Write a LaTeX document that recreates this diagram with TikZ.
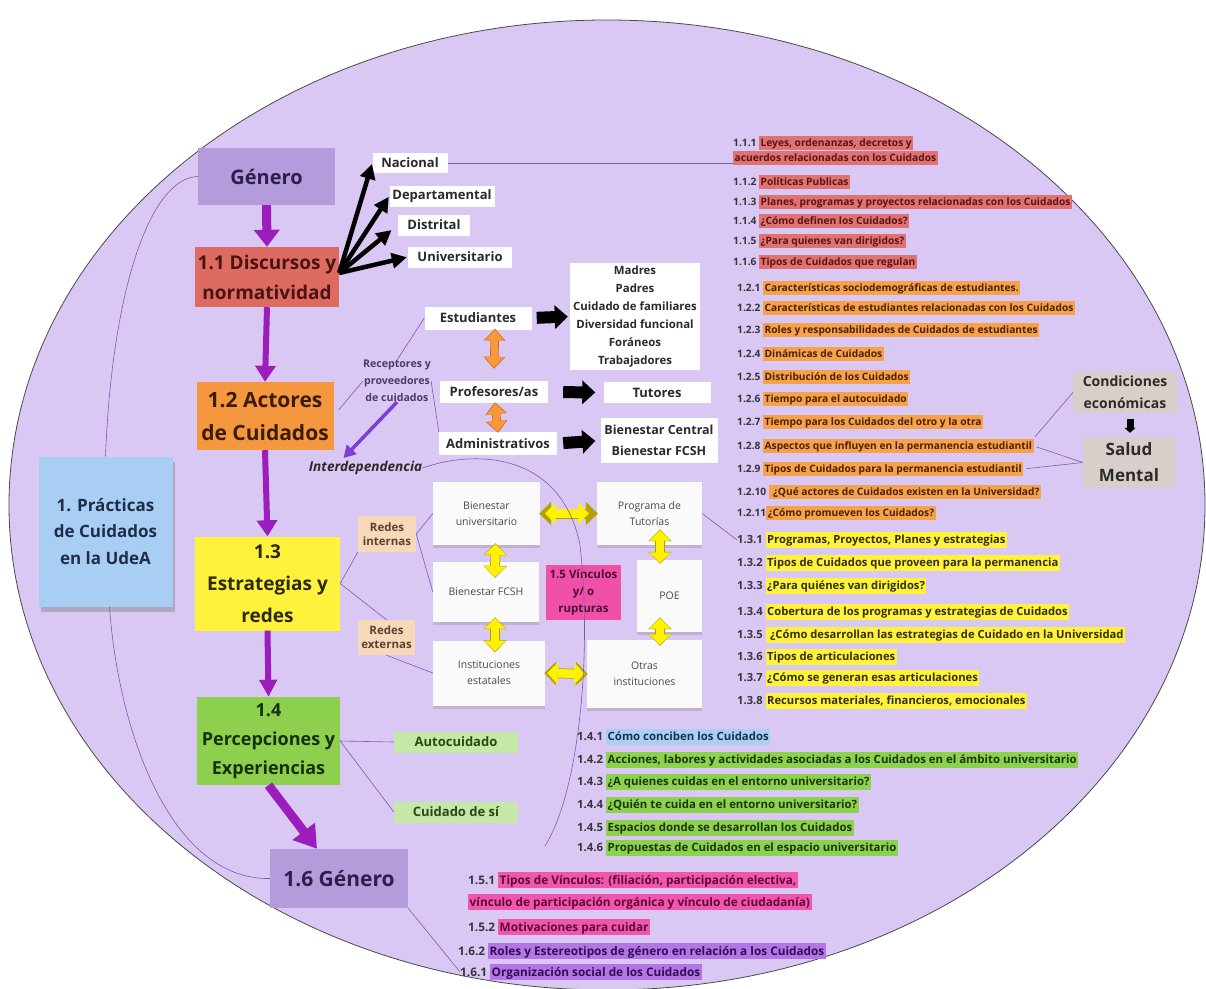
\documentclass[tikz,border=0pt]{standalone}
\usepackage{fontspec}
\setmainfont{Open Sans}
\usetikzlibrary{positioning,arrows.meta,calc,shadows}

\definecolor{bgpurple}{HTML}{DAC8F4}
\definecolor{rimgray}{HTML}{4A4A4A}
\definecolor{linkpurple}{HTML}{8058B4}
\definecolor{arrowpurple}{HTML}{9B1DBE}
\definecolor{recpurple}{HTML}{7B3FD6}
\definecolor{genfill}{HTML}{B49CDC}
\definecolor{gentext}{HTML}{2C1F4E}
\definecolor{disfill}{HTML}{DE6B62}
\definecolor{distext}{HTML}{4A1410}
\definecolor{actfill}{HTML}{F4973F}
\definecolor{acttext}{HTML}{3B1D05}
\definecolor{estfill}{HTML}{FFF23C}
\definecolor{esttext}{HTML}{2E2A00}
\definecolor{perfill}{HTML}{8CD04E}
\definecolor{pertext}{HTML}{18300A}
\definecolor{prafill}{HTML}{A9CEF3}
\definecolor{pratext}{HTML}{1F2E48}
\definecolor{redfill}{HTML}{F7D9B9}
\definecolor{redtext}{HTML}{5B4230}
\definecolor{cuifill}{HTML}{C7E7A9}
\definecolor{cuitext}{HTML}{2D4812}
\definecolor{salfill}{HTML}{D9CFCA}
\definecolor{saltext}{HTML}{2B2B2B}
\definecolor{vinfill}{HTML}{F050A8}
\definecolor{vintext}{HTML}{4A1030}
\definecolor{oraarrow}{HTML}{F7993A}
\definecolor{oraedge}{HTML}{C86A10}
\definecolor{yelarrow}{HTML}{FFF200}
\definecolor{yeledge}{HTML}{B3A300}
\definecolor{boxtext}{HTML}{2A2A2A}
\definecolor{cardwhite}{HTML}{FAFAFA}
\definecolor{cardtext}{HTML}{4A4A4A}
\definecolor{rectext}{HTML}{4B3A66}
\definecolor{numgray}{HTML}{363636}
\definecolor{hlred}{HTML}{E07272}
\definecolor{hlora}{HTML}{F6A14B}
\definecolor{hlyel}{HTML}{FFF23C}
\definecolor{hlblu}{HTML}{A8D0F2}
\definecolor{hlgre}{HTML}{8DD24E}
\definecolor{hlpin}{HTML}{F156AC}
\definecolor{hlpur}{HTML}{B575E6}
\definecolor{txred}{HTML}{5B1414}
\definecolor{txora}{HTML}{4A2300}
\definecolor{txyel}{HTML}{333000}
\definecolor{txblu}{HTML}{1C2F50}
\definecolor{txgre}{HTML}{1B360A}
\definecolor{txpin}{HTML}{5C0A38}
\definecolor{txpur}{HTML}{2E0E55}

\newcommand{\setfs}[2]{\fontsize{#1}{#2}\selectfont}
\newcommand{\hlbox}[3]{{\setlength{\fboxsep}{1.5pt}\colorbox{#1}{\color{#2}\vphantom{Ág}#3}}}
\newcommand{\hred}[1]{\hlbox{hlred}{txred}{#1}}
\newcommand{\hora}[1]{\hlbox{hlora}{txora}{#1}}
\newcommand{\hyel}[1]{\hlbox{hlyel}{txyel}{#1}}
\newcommand{\hblu}[1]{\hlbox{hlblu}{txblu}{#1}}
\newcommand{\hgre}[1]{\hlbox{hlgre}{txgre}{#1}}
\newcommand{\hpin}[1]{\hlbox{hlpin}{txpin}{#1}}
\newcommand{\hpur}[1]{\hlbox{hlpur}{txpur}{#1}}

\tikzset{
    rim/.style = {fill=bgpurple, draw=rimgray, line width=0.8pt},
    topic/.style = {shape=rectangle, inner sep=0pt, align=center},
    tag/.style = {
        shape=rectangle,
        fill=white,
        inner sep=0pt,
        align=center,
        text=boxtext,
        font=\bfseries\setfs{13}{16}
    },
    card/.style = {
        shape=rectangle,
        fill=cardwhite,
        inner sep=0pt,
        align=center,
        text=cardtext,
        font=\setfs{10.5}{16},
        drop shadow={shadow xshift=0pt, shadow yshift=-3pt, opacity=0.3}
    },
    note/.style = {shape=rectangle, inner sep=0pt, align=center, font=\bfseries\setfs{11.5}{14}},
    item/.style = {anchor=west, inner sep=0pt, align=left, text=numgray, font=\bfseries\setfs{10.2}{15}},
    itemc/.style = {item, font=\bfseries\setfs{11.2}{22}},
    itemd/.style = {item, font=\bfseries\setfs{11.4}{22}},
    iteme/.style = {item, font=\bfseries\setfs{11.8}{22}},
    link/.style = {draw=linkpurple, line width=0.6pt},
    down/.style = {draw=arrowpurple, line width=6pt, -{Triangle[width=20pt,length=16pt]}},
    fan/.style = {draw=black, line width=4.5pt, -{Triangle[width=15pt,length=15pt]}},
    push/.style = {draw=black, line width=12pt, -{Triangle[width=23pt,length=13pt]}},
    oarrow/.style = {
        preaction={draw=oraedge, line width=8.5pt,
            arrows={Triangle[width=21pt,length=12pt]-Triangle[width=21pt,length=12pt]},
            shorten <=-1pt, shorten >=-1pt},
        draw=oraarrow, line width=7pt,
        {Triangle[width=19pt,length=11pt]}-{Triangle[width=19pt,length=11pt]}
    },
    yarrow/.style = {
        preaction={draw=yeledge, line width=10pt,
            arrows={Triangle[width=23pt,length=12pt]-Triangle[width=23pt,length=12pt]},
            shorten <=-1pt, shorten >=-1pt},
        draw=yelarrow, line width=8.5pt,
        {Triangle[width=21pt,length=10.5pt]}-{Triangle[width=21pt,length=10.5pt]}
    },
}

\begin{document}
\begin{tikzpicture}[x=1pt,y=-1pt]
    \useasboundingbox (0,0) rectangle (1206,988);
    \fill[white] (0,0) rectangle (1206,988);
    \path[rim] (607,505) ellipse [x radius=598pt, y radius=485pt];

    % main column
    \node[topic, fill=genfill, text=gentext, minimum width=137pt, minimum height=57pt,
        font=\bfseries\setfs{20}{24}] (gen) at (266.5,176.5) {Género};
    \node[topic, fill=disfill, text=distext, minimum width=144pt, minimum height=60pt,
        font=\bfseries\setfs{19}{30}] (dis) at (267,277) {1.1 Discursos y\\normatividad};
    \node[topic, fill=actfill, text=acttext, minimum width=137pt, minimum height=68pt,
        font=\bfseries\setfs{21}{33}] (act) at (265,416) {1.2 Actores\\de Cuidados};
    \node[topic, fill=estfill, text=esttext, minimum width=145pt, minimum height=94pt,
        font=\bfseries\setfs{19}{32}] (est) at (267.5,583.5) {1.3\\Estrategias y\\redes};
    \node[topic, fill=perfill, text=pertext, minimum width=143pt, minimum height=88pt,
        font=\bfseries\setfs{18}{29}] (per) at (268.5,741) {1.4\\Percepciones y\\Experiencias};
    \node[topic, fill=genfill, text=gentext, minimum width=138pt, minimum height=59pt,
        font=\bfseries\setfs{21}{25}] (g16) at (339,878.5) {1.6 Género};
    \node[topic, fill=prafill, text=pratext, minimum width=134pt, minimum height=150pt,
        font=\bfseries\setfs{17}{26.5},
        drop shadow={shadow xshift=2pt, shadow yshift=-5pt, opacity=0.45}] (pra) at (105.5,531.5)
        {1. Prácticas\\de Cuidados\\en la UdeA};

    \path[down, line width=9pt, -{Triangle[width=25pt,length=17pt]}] (gen.south) -- (dis.north);
    \path[down] (dis.south) -- (act.north);
    \path[down] (act.south) -- (est.north);
    \path[down, -{Triangle[width=17pt,length=17pt]}] (est.south) -- (per.north);
    \path[down, line width=9pt, -{Triangle[width=27pt,length=22pt]}] (per.south) -- ([xshift=-22pt]g16.north);

    \path[link] (gen.west) .. controls (150,178) and (112,290) .. (pra.north);
    \path[link] ([xshift=4pt]pra.south) .. controls (118,730) and (170,880) .. (g16.west);

    % 1.1 branches
    \node[tag, minimum width=75pt, minimum height=20pt] (nac) at (410,163) {Nacional};
    \node[tag, minimum width=105pt, minimum height=21pt] (dep) at (442,196) {Departamental};
    \node[tag, minimum width=72pt, minimum height=21pt] (dtr) at (434,225) {Distrital};
    \node[tag, minimum width=104pt, minimum height=21pt] (uni) at (460,257) {Universitario};
    \foreach \dst/\cut in {nac/1, dep/1, dtr/8, uni/1}
        \path[fan, shorten >=\cut] ([yshift=4pt]dis.east) -- (\dst.west);

    % 1.2 actors
    \node[tag, minimum width=107pt, minimum height=23pt] (stu) at (478,318) {Estudiantes};
    \node[tag, minimum width=108pt, minimum height=22pt] (pro) at (494,392) {Profesores/as};
    \node[tag, minimum width=118pt, minimum height=23pt] (adm) at (498,443.5) {Administrativos};
    \node[tag, minimum width=130pt, minimum height=107pt, font=\bfseries\setfs{11.4}{18}] (kinds) at (635,316.5)
        {Madres\\Padres\\Cuidado de familiares\\Diversidad funcional\\Foráneos\\Trabajadores};
    \node[tag, minimum width=107pt, minimum height=21pt] (tut) at (657,392.5) {Tutores};
    \node[tag, minimum width=117pt, minimum height=45pt, font=\bfseries\setfs{12.5}{21}] (bien) at (659,440.5)
        {Bienestar Central\\Bienestar FCSH};
    \node[note, text=rectext, font=\bfseries\setfs{10.6}{17}] (rec) at (397,381)
        {Receptores y\\proveedores\\de cuidados};
    \node[note, text=boxtext, font=\bfseries\itshape\setfs{13.6}{15}] (interd) at (365.5,468) {Interdependencia};

    \path[push, shorten <=5pt, shorten >=2pt] (stu.east) -- (kinds.west);
    \path[push, shorten <=15pt, shorten >=8pt] (pro.east) -- (tut.west);
    \path[push, shorten <=6pt, shorten >=5pt] (adm.east) -- (bien.west);
    \path[oarrow] ([xshift=17pt]stu.south) -- ([yshift=13pt]pro.north);
    \path[oarrow] ([xshift=1pt]pro.south) -- (adm.north);

    \path[link, shorten <=8pt] (act.east) -- (rec.west);
    \path[link] (rec.north) -- (stu.west);
    \path[link] (rec.east) -- (adm.north west);
    \path[draw=recpurple, line width=3.5pt, -{Triangle[width=13pt,length=12pt]}]
        (rec.south) -- ([xshift=-22pt,yshift=3pt]interd.north);

    % 1.3 networks
    \node[note, fill=redfill, text=redtext, minimum width=58pt, minimum height=36pt] (rin) at (387,534) {Redes\\internas};
    \node[note, fill=redfill, text=redtext, minimum width=57pt, minimum height=35pt] (rex) at (386.5,637.5) {Redes\\externas};
    \node[card, minimum width=107pt, minimum height=63pt] (bu) at (486.5,513.5) {Bienestar\\universitario};
    \node[card, minimum width=106pt, minimum height=60pt] (bf) at (486,592) {Bienestar FCSH};
    \node[card, minimum width=112pt, minimum height=65pt] (ie) at (489,673) {Instituciones\\estatales};
    \node[card, minimum width=105pt, minimum height=63pt] (pt) at (649.5,513.5) {Programa de\\Tutorías};
    \node[card, minimum width=65pt, minimum height=72pt] (poe) at (669.5,596) {POE};
    \node[card, minimum width=115pt, minimum height=68pt] (oi) at (644.5,674) {Otras\\instituciones};
    \node[note, fill=vinfill, text=vintext, minimum width=75pt, minimum height=55pt,
        font=\bfseries\setfs{11.5}{17}] (v15) at (583.5,592.5) {1.5 Vínculos\\y/ o\\rupturas};

    \path[link] (est.east) -- (rin.south west);
    \path[link] (est.east) -- (rex.north);
    \path[link] (rin.east) -- (bu.west);
    \path[link] (rin.east) -- (bf.west);
    \path[link] (rex.south) -- (ie.west);

    \path[yarrow, shorten <=5pt, shorten >=8pt] (bu.east) -- (pt.west);
    \path[yarrow, shorten <=2pt, shorten >=2pt] (ie.east) -- (oi.west);
    \path[yarrow] ([xshift=9pt,yshift=1pt]bu.south) -- ([xshift=9pt,yshift=-15pt]bf.north);
    \path[yarrow] ([xshift=9pt,yshift=4pt]bf.south) -- ([xshift=6pt,yshift=-11pt]ie.north);
    \path[yarrow] ([xshift=10.5pt,yshift=15pt]pt.south) -- ([xshift=-9.5pt,yshift=-3pt]poe.north);
    \path[yarrow] ([xshift=-9.5pt,yshift=14pt]poe.south) -- ([xshift=15.5pt,yshift=-5pt]oi.north);

    % 1.4 perceptions
    \node[note, fill=cuifill, text=cuitext, minimum width=124pt, minimum height=21pt,
        font=\bfseries\setfs{13}{16}] (auto) at (456,742) {Autocuidado};
    \node[note, fill=cuifill, text=cuitext, minimum width=124pt, minimum height=21pt,
        font=\bfseries\setfs{13}{16}] (cui) at (456,812) {Cuidado de sí};
    \path[link] (per.east) -- (auto.west);
    \path[link] (per.east) -- (cui.west);

    % right side
    \node[note, fill=salfill, text=saltext, minimum width=104pt, minimum height=41pt,
        font=\bfseries\setfs{14}{22}] (cond) at (1125,392.5) {Condiciones\\económicas};
    \node[note, fill=salfill, text=saltext, minimum width=92pt, minimum height=51pt,
        font=\bfseries\setfs{17}{26}] (sal) at (1129,462.5) {Salud\\Mental};
    \path[draw=black, line width=7pt, -{Triangle[width=11pt,length=5pt]}, shorten <=6pt, shorten >=4pt]
        ([xshift=5pt]cond.south) -- ([xshift=1pt]sal.north);

    % lists
    \node[item] (i111) at (733,150.5) {1.1.1 \hred{Leyes, ordenanzas, decretos y}\\\hred{acuerdos relacionadas con los Cuidados}};
    \node[item] (i112) at (733,182) {1.1.2 \hred{Políticas Publicas}};
    \node[item] (i113) at (733,202) {1.1.3 \hred{Planes, programas y proyectos relacionadas con los Cuidados}};
    \node[item] (i114) at (733,221) {1.1.4 \hred{¿Cómo definen los Cuidados?}};
    \node[item] (i115) at (733,241) {1.1.5 \hred{¿Para quienes van dirigidos?}};
    \node[item] (i116) at (733,262) {1.1.6 \hred{Tipos de Cuidados que regulan}};

    \node[item] (i121) at (737,288) {1.2.1 \hora{Características sociodemográficas de estudiantes.}};
    \node[item] (i122) at (737,308) {1.2.2 \hora{Características de estudiantes relacionadas con los Cuidados}};
    \node[item] (i123) at (737,330) {1.2.3 \hora{Roles y responsabilidades de Cuidados de estudiantes}};
    \node[item] (i124) at (737,354) {1.2.4 \hora{Dinámicas de Cuidados}};
    \node[item] (i125) at (737,377) {1.2.5 \hora{Distribución de los Cuidados}};
    \node[item] (i126) at (737,399) {1.2.6 \hora{Tiempo para el autocuidado}};
    \node[item] (i127) at (737,422) {1.2.7 \hora{Tiempo para los Cuidados del otro y la otra}};
    \node[item] (i128) at (737,446) {1.2.8 \hora{Aspectos que influyen en la permanencia estudiantil}};
    \node[item] (i129) at (737,469) {1.2.9 \hora{Tipos de Cuidados para la permanencia estudiantil}};
    \node[item] (i1210) at (737,492) {1.2.10 \hora{ ¿Qué actores de Cuidados existen en la Universidad?}};
    \node[item] (i1211) at (737,513) {1.2.11\hora{¿Cómo promueven los Cuidados?}};

    \node[itemc] (i131) at (737,540) {1.3.1 \hyel{Programas, Proyectos, Planes y estrategias}};
    \node[itemc] (i132) at (737,563) {1.3.2 \hyel{Tipos de Cuidados que proveen para la permanencia}};
    \node[itemc] (i133) at (737,586) {1.3.3 \hyel{¿Para quiénes van dirigidos?}};
    \node[itemc] (i134) at (737,612) {1.3.4 \hyel{Cobertura de los programas y estrategias de Cuidados}};
    \node[itemc] (i135) at (737,635) {1.3.5 \hyel{ ¿Cómo desarrollan las estrategias de Cuidado en la Universidad}};
    \node[itemc] (i136) at (737,657) {1.3.6 \hyel{Tipos de articulaciones}};
    \node[itemc] (i137) at (737,678) {1.3.7 \hyel{¿Cómo se generan esas  articulaciones}};
    \node[itemc] (i138) at (737,701) {1.3.8 \hyel{Recursos materiales, financieros, emocionales}};

    \node[itemd] (i141) at (577,737) {1.4.1 \hblu{Cómo conciben los Cuidados}};
    \node[itemd] (i142) at (577,760) {1.4.2 \hgre{Acciones, labores y actividades asociadas a los Cuidados en el ámbito universitario}};
    \node[itemd] (i143) at (577,782) {1.4.3 \hgre{¿A quienes cuidas en el entorno universitario?}};
    \node[itemd] (i144) at (577,805) {1.4.4 \hgre{¿Quién te cuida en el entorno universitario?}};
    \node[itemd] (i145) at (577,828) {1.4.5 \hgre{Espacios donde se desarrollan los Cuidados}};
    \node[itemd] (i146) at (577,848) {1.4.6 \hgre{Propuestas de Cuidados en el espacio universitario}};

    \node[iteme] (i151) at (468,891) {1.5.1 \hpin{Tipos de Vínculos: (filiación, participación electiva,}\\\hpin{vínculo de participación orgánica y vínculo de ciudadanía)}};
    \node[iteme] (i152) at (468,927) {1.5.2 \hpin{Motivaciones para cuidar}};
    \node[iteme] (i162) at (458,951) {1.6.2 \hpur{Roles y Estereotipos  de género en relación a los Cuidados}};
    \node[iteme] (i161) at (460,972) {1.6.1 \hpur{Organización social de los Cuidados}};

    % cross links
    \coordinate (v15end) at (545,846);
    \path[link] (interd.east) .. controls (480,448) and (562,455) .. (580,545)
        .. controls (592,650) and (580,790) .. (v15end);
    \path[link] (nac.east) -- (nac.east -| i111.west);
    \path[link] (pt.east) -- (i131.west);
    \path[link, shorten >=2pt] (cond.west) -- (i128.north east);
    \path[link, shorten <=3pt] (i128.east) -- (sal.west);
    \path[link, shorten <=3pt] (i129.east) -- (sal.west);
    \path[link] (g16.south east) -- (i161.west);
\end{tikzpicture}
\end{document}
